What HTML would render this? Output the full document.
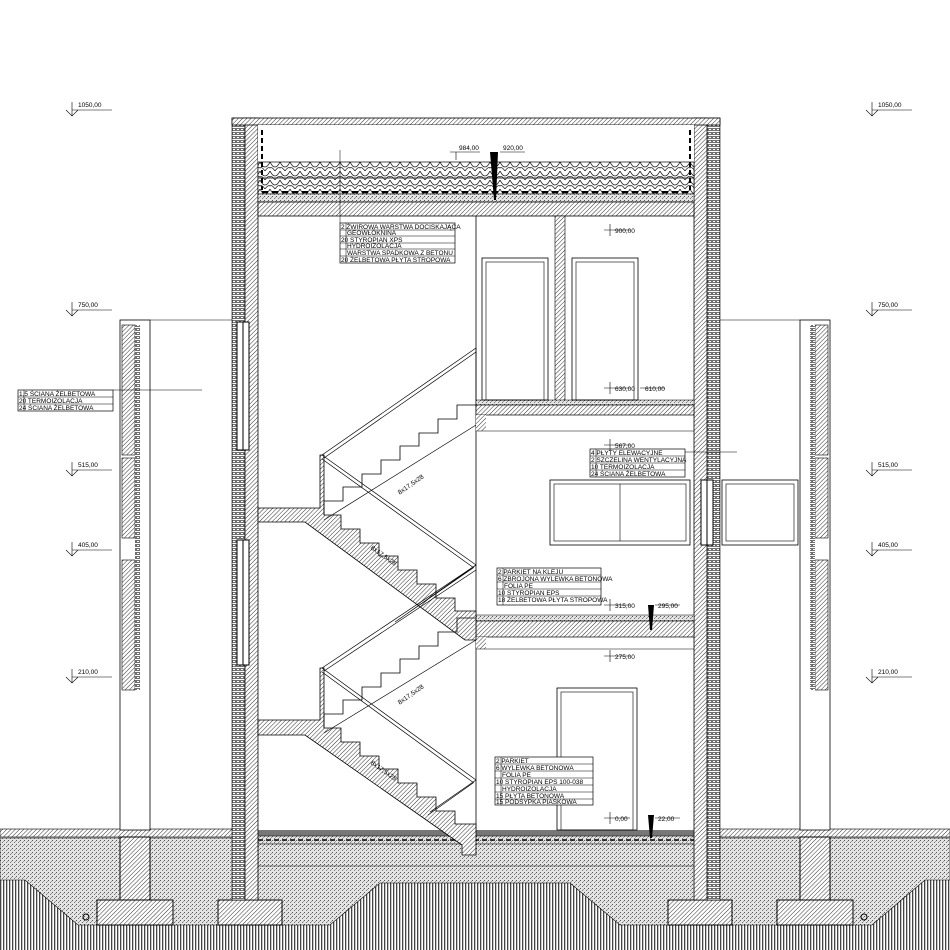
<!DOCTYPE html>
<html><head><meta charset="utf-8"><style>
html,body{margin:0;padding:0;background:#fff}
svg{display:block}
text{font-family:"Liberation Sans",sans-serif;font-size:6.5px;fill:#000}
</style></head><body>
<svg width="950" height="950" viewBox="0 0 950 950" xmlns="http://www.w3.org/2000/svg">
<defs>
<pattern id="h" width="3" height="3" patternUnits="userSpaceOnUse" patternTransform="rotate(45)"><rect width="3" height="3" fill="#fff"/><line x1="0" y1="0" x2="0" y2="3" stroke="#333" stroke-width="1"/></pattern>
<pattern id="st" width="4" height="4" patternUnits="userSpaceOnUse"><rect width="4" height="4" fill="#e4e4e4"/><rect x="0" y="0" width="1" height="1" fill="#555"/><rect x="2" y="2" width="1" height="1" fill="#777"/><rect x="3" y="1" width="1" height="1" fill="#999"/></pattern>
<pattern id="gr" width="3" height="4" patternUnits="userSpaceOnUse"><rect width="3" height="4" fill="#fff"/><rect width="1.3" height="4" fill="#444"/></pattern>
<pattern id="gv" width="10" height="9" patternUnits="userSpaceOnUse"><rect width="10" height="9" fill="#fff"/><path d="M0 0 Q5 10 10 0 M5 9 Q0 2 -1 9 M5 9 Q10 2 11 9" fill="none" stroke="#222" stroke-width="0.8"/></pattern>
<pattern id="ins" width="4" height="4" patternUnits="userSpaceOnUse"><rect width="4" height="4" fill="#fff"/><rect x="0.5" y="0.5" width="3" height="2" fill="none" stroke="#333" stroke-width="0.7"/></pattern>
</defs>

<!-- ground -->
<path d="M0 880 L25 880 L78 925 L330 925 L380 883 L570 883 L620 925 L872 925 L925 880 L950 880 L950 950 L0 950Z" fill="url(#gr)"/>
<path d="M0 838 L950 838 L950 880 L925 880 L872 925 L620 925 L570 883 L380 883 L330 925 L78 925 L25 880 L0 880Z" fill="url(#st)" stroke="#000" stroke-width="0.6"/>
<rect x="0" y="829" width="240" height="8" fill="url(#h)" stroke="#000" stroke-width="0.6"/>
<rect x="712" y="829" width="238" height="8" fill="url(#h)" stroke="#000" stroke-width="0.6"/>
<!-- footings -->
<rect x="97" y="900" width="76" height="25" fill="url(#h)" stroke="#000"/>
<rect x="218" y="900" width="64" height="25" fill="url(#h)" stroke="#000"/>
<rect x="668" y="900" width="64" height="25" fill="url(#h)" stroke="#000"/>
<rect x="777" y="900" width="76" height="25" fill="url(#h)" stroke="#000"/>
<rect x="120" y="837" width="30" height="63" fill="url(#h)" stroke="#000"/>
<rect x="800" y="837" width="30" height="63" fill="url(#h)" stroke="#000"/>
<circle cx="86" cy="917" r="3" fill="none" stroke="#000"/>
<circle cx="864" cy="917" r="3" fill="none" stroke="#000"/>
<!-- ground floor slab -->
<rect x="258" y="830" width="436" height="6" fill="#777"/>
<rect x="258" y="836" width="436" height="8" fill="url(#st)" stroke="#000" stroke-width="0.5"/>
<line x1="258" y1="840" x2="694" y2="840" stroke="#000" stroke-width="1.5" stroke-dasharray="5 3"/>
<rect x="258" y="844" width="436" height="22" fill="url(#st)" stroke="#000" stroke-width="0.5"/>

<!-- outside columns -->
<rect x="120" y="320" width="30" height="510" fill="#fff" stroke="#000" stroke-width="0.8"/>
<rect x="122" y="325" width="13" height="130" fill="url(#h)" stroke="#000" stroke-width="0.6"/>
<rect x="122" y="458" width="13" height="80" fill="url(#h)" stroke="#000" stroke-width="0.6"/>
<rect x="122" y="560" width="13" height="130" fill="url(#h)" stroke="#000" stroke-width="0.6"/>
<rect x="135" y="325" width="5" height="365" fill="url(#ins)"/>
<rect x="800" y="320" width="30" height="510" fill="#fff" stroke="#000" stroke-width="0.8"/>
<rect x="815" y="325" width="13" height="130" fill="url(#h)" stroke="#000" stroke-width="0.6"/>
<rect x="815" y="458" width="13" height="80" fill="url(#h)" stroke="#000" stroke-width="0.6"/>
<rect x="815" y="560" width="13" height="130" fill="url(#h)" stroke="#000" stroke-width="0.6"/>
<rect x="810" y="325" width="5" height="365" fill="url(#ins)"/>
<line x1="150" y1="320" x2="232" y2="320" stroke="#000" stroke-width="0.6"/>
<line x1="720" y1="320" x2="800" y2="320" stroke="#000" stroke-width="0.6"/>

<!-- main walls -->
<rect x="232" y="118" width="13" height="782" fill="url(#ins)" stroke="#000" stroke-width="0.6"/>
<rect x="245" y="118" width="13" height="782" fill="url(#h)" stroke="#000" stroke-width="0.8"/>
<rect x="707" y="118" width="13" height="782" fill="url(#ins)" stroke="#000" stroke-width="0.6"/>
<rect x="694" y="118" width="13" height="782" fill="url(#h)" stroke="#000" stroke-width="0.8"/>
<rect x="232" y="118" width="488" height="7" fill="url(#h)" stroke="#000" stroke-width="0.8"/>
<!-- left windows -->
<rect x="237" y="322" width="12" height="128" fill="#fff" stroke="#000"/>
<line x1="243" y1="322" x2="243" y2="450" stroke="#000"/>
<rect x="237" y="540" width="12" height="125" fill="#fff" stroke="#000"/>
<line x1="243" y1="540" x2="243" y2="665" stroke="#000"/>
<rect x="701" y="480" width="12" height="65" fill="#fff" stroke="#000"/>
<line x1="707" y1="480" x2="707" y2="545" stroke="#000"/>

<!-- roof -->
<rect x="258" y="125" width="436" height="75" fill="#fff"/>
<rect x="258" y="162" width="436" height="32" fill="url(#gv)" stroke="#000" stroke-width="0.7"/>
<line x1="258" y1="178" x2="694" y2="178" stroke="#000" stroke-width="0.8"/>
<line x1="262" y1="192" x2="690" y2="192" stroke="#000" stroke-width="2" stroke-dasharray="6 4"/>
<rect x="258" y="194" width="436" height="8" fill="url(#st)" stroke="#000" stroke-width="0.5"/>
<rect x="258" y="202" width="436" height="14" fill="url(#h)" stroke="#000" stroke-width="0.8"/>
<line x1="262" y1="130" x2="262" y2="190" stroke="#000" stroke-width="2" stroke-dasharray="5 3"/>
<line x1="690" y1="130" x2="690" y2="190" stroke="#000" stroke-width="2" stroke-dasharray="5 3"/>
<polygon points="490,152 498,152 496,200 494,200" fill="#000"/>

<!-- interior wall and slabs -->
<rect x="555" y="216" width="10" height="185" fill="url(#h)" stroke="#000" stroke-width="0.6"/>
<line x1="476" y1="216" x2="476" y2="830" stroke="#000" stroke-width="0.8"/>
<rect x="476" y="400" width="218" height="5" fill="url(#st)" stroke="#000" stroke-width="0.5"/>
<rect x="476" y="405" width="218" height="10" fill="url(#h)" stroke="#000" stroke-width="0.7"/>
<rect x="476" y="615" width="218" height="6" fill="url(#st)" stroke="#000" stroke-width="0.5"/>
<rect x="476" y="621" width="218" height="16" fill="url(#h)" stroke="#000" stroke-width="0.7"/>
<rect x="476" y="415" width="10" height="16" fill="url(#h)"/>
<line x1="476" y1="431" x2="694" y2="431" stroke="#000" stroke-width="0.6"/>
<rect x="476" y="637" width="10" height="12" fill="url(#h)"/>
<line x1="476" y1="649" x2="694" y2="649" stroke="#000" stroke-width="0.6"/>
<polygon points="648,605 654,605 652,630 650,630" fill="#000"/>
<polygon points="648,815 654,815 652,838 650,838" fill="#000"/>

<!-- doors -->
<rect x="482" y="258" width="66" height="142" fill="none" stroke="#000" stroke-width="0.8"/>
<rect x="486" y="262" width="58" height="138" fill="none" stroke="#000" stroke-width="0.6"/>
<rect x="572" y="258" width="66" height="142" fill="none" stroke="#000" stroke-width="0.8"/>
<rect x="576" y="262" width="58" height="138" fill="none" stroke="#000" stroke-width="0.6"/>
<rect x="557" y="688" width="80" height="142" fill="none" stroke="#000" stroke-width="0.8"/>
<rect x="561" y="692" width="72" height="138" fill="none" stroke="#000" stroke-width="0.6"/>
<!-- windows right -->
<rect x="550" y="480" width="140" height="65" fill="none" stroke="#000" stroke-width="0.8"/>
<rect x="554" y="484" width="132" height="57" fill="none" stroke="#000" stroke-width="0.6"/>
<line x1="620" y1="484" x2="620" y2="541" stroke="#000" stroke-width="0.6"/>
<rect x="722" y="480" width="76" height="65" fill="none" stroke="#000" stroke-width="0.8"/>
<rect x="726" y="484" width="68" height="57" fill="none" stroke="#000" stroke-width="0.6"/>

<!-- landings left -->
<path d="M258 508 L320 508 L320 455 L324 455 L324 515 L341 515 L341 529 L360 529 L360 543 L379 543 L379 556 L398 556 L398 570 L417 570 L417 584 L436 584 L436 598 L455 598 L455 611 L476 611 L476 640 L465 640 L305 522 L258 522Z" fill="url(#h)" stroke="#000" stroke-width="0.8"/>
<path d="M258 720 L320 720 L320 668 L324 668 L324 728 L341 728 L341 742 L360 742 L360 756 L379 756 L379 769 L398 769 L398 783 L417 783 L417 797 L436 797 L436 811 L455 811 L455 824 L476 824 L476 855 L462 855 L462 845 L305 735 L258 735Z" fill="url(#h)" stroke="#000" stroke-width="0.8"/>
<!-- uncut flights -->
<polyline points="324,515 324,501 343,501 343,487 362,487 362,474 381,474 381,460 400,460 400,446 419,446 419,433 438,433 438,419 457,419 457,405 476,405" fill="none" stroke="#000" stroke-width="0.8"/>
<line x1="324" y1="520" x2="476" y2="425" stroke="#000" stroke-width="0.7"/>
<polyline points="324,728 324,714 343,714 343,700 362,700 362,687 381,687 381,673 400,673 400,659 419,659 419,646 438,646 438,632 457,632 457,618 476,618" fill="none" stroke="#000" stroke-width="0.8"/>
<line x1="324" y1="733" x2="476" y2="640" stroke="#000" stroke-width="0.7"/>
<!-- railings -->
<g stroke="#000" stroke-width="0.7" fill="none">
<path d="M322 455 L476 348 M324 458 L476 352"/>
<path d="M322 455 L476 565 M322 459 L474 568"/>
<path d="M476 565 L398 620 M473 568 L395 622"/>
<path d="M322 668 L476 565 M324 671 L476 570"/>
<path d="M322 668 L476 780 M322 672 L474 783"/>
<path d="M476 780 L430 812 M473 783 L428 815"/>
<line x1="476" y1="348" x2="476" y2="400"/>
</g>
<g font-size="5">
<text x="395" y="490" transform="rotate(-35 405 485)" font-size="5">8x17,5x28</text>
<text x="370" y="555" transform="rotate(35 380 552)" font-size="5">8x17,5x28</text>
<text x="395" y="700" transform="rotate(-35 405 695)" font-size="5">8x17,5x28</text>
<text x="370" y="770" transform="rotate(35 380 767)" font-size="5">8x17,5x28</text>
</g>

<!-- labels -->
<g fill="#fff" stroke="#000" stroke-width="0.7">
<rect x="340" y="223" width="115" height="40"/>
<rect x="18" y="390" width="95" height="21"/>
<rect x="590" y="449" width="95" height="28"/>
<rect x="497" y="568" width="104" height="37"/>
<rect x="495" y="757" width="98" height="48"/>
</g>
<g stroke="#000" stroke-width="0.5">
<line x1="340" y1="230" x2="455" y2="230"/><line x1="340" y1="236" x2="455" y2="236"/><line x1="340" y1="243" x2="455" y2="243"/><line x1="340" y1="249" x2="455" y2="249"/><line x1="340" y1="256" x2="455" y2="256"/><line x1="346" y1="223" x2="346" y2="263"/>
<line x1="340" y1="150" x2="340" y2="223"/>
<line x1="18" y1="397" x2="113" y2="397"/><line x1="18" y1="404" x2="113" y2="404"/><line x1="24" y1="390" x2="24" y2="411"/>
<line x1="113" y1="390" x2="202" y2="390"/>
<line x1="590" y1="456" x2="685" y2="456"/><line x1="590" y1="463" x2="685" y2="463"/><line x1="590" y1="470" x2="685" y2="470"/><line x1="596" y1="449" x2="596" y2="477"/>
<line x1="685" y1="452" x2="737" y2="452"/>
<line x1="497" y1="575" x2="601" y2="575"/><line x1="497" y1="582" x2="601" y2="582"/><line x1="497" y1="589" x2="601" y2="589"/><line x1="497" y1="596" x2="601" y2="596"/><line x1="503" y1="568" x2="503" y2="605"/>
<line x1="495" y1="764" x2="593" y2="764"/><line x1="495" y1="771" x2="593" y2="771"/><line x1="495" y1="778" x2="593" y2="778"/><line x1="495" y1="785" x2="593" y2="785"/><line x1="495" y1="792" x2="593" y2="792"/><line x1="495" y1="799" x2="593" y2="799"/><line x1="501" y1="757" x2="501" y2="805"/>
</g>
<g font-size="5.5">
<text x="341" y="229">2 ŻWIROWA WARSTWA DOCISKAJĄCA</text>
<text x="347" y="235">GEOWŁÓKNINA</text>
<text x="341" y="242">20 STYROPIAN XPS</text>
<text x="347" y="248">HYDROIZOLACJA</text>
<text x="347" y="255">WARSTWA SPADKOWA Z BETONU</text>
<text x="341" y="262">20 ŻELBETOWA PŁYTA STROPOWA</text>
<text x="19" y="396">1,5 ŚCIANA ŻELBETOWA</text>
<text x="19" y="403">20 TERMOIZOLACJA</text>
<text x="19" y="410">24 ŚCIANA ŻELBETOWA</text>
<text x="591" y="455">4 PŁYTY ELEWACYJNE</text>
<text x="591" y="462">2 SZCZELINA WENTYLACYJNA</text>
<text x="591" y="469">10 TERMOIZOLACJA</text>
<text x="591" y="476">24 ŚCIANA ŻELBETOWA</text>
<text x="498" y="574">2 PARKIET NA KLEJU</text>
<text x="498" y="581">6 ZBROJONA WYLEWKA BETONOWA</text>
<text x="504" y="588">FOLIA PE</text>
<text x="498" y="595">10 STYROPIAN EPS</text>
<text x="498" y="602">18 ŻELBETOWA PŁYTA STROPOWA</text>
<text x="496" y="763">2 PARKIET</text>
<text x="496" y="770">6 WYLEWKA BETONOWA</text>
<text x="502" y="777">FOLIA PE</text>
<text x="496" y="784">10 STYROPIAN EPS 100-038</text>
<text x="502" y="791">HYDROIZOLACJA</text>
<text x="496" y="798">15 PŁYTA BETONOWA</text>
<text x="496" y="804">15 PODSYPKA PIASKOWA</text>
</g>

<!-- level markers -->
<g stroke="#000" stroke-width="0.6" fill="none">
<path d="M66 110 L72 116 L78 110 M72 102 V116 M72 110 H112"/>
<path d="M66 310 L72 316 L78 310 M72 302 V316 M72 310 H112"/>
<path d="M66 470 L72 476 L78 470 M72 462 V476 M72 470 H112"/>
<path d="M66 550 L72 556 L78 550 M72 542 V556 M72 550 H112"/>
<path d="M66 677 L72 683 L78 677 M72 669 V683 M72 677 H112"/>
<path d="M866 110 L872 116 L878 110 M872 102 V116 M872 110 H912"/>
<path d="M866 310 L872 316 L878 310 M872 302 V316 M872 310 H912"/>
<path d="M866 470 L872 476 L878 470 M872 462 V476 M872 470 H912"/>
<path d="M866 550 L872 556 L878 550 M872 542 V556 M872 550 H912"/>
<path d="M866 677 L872 683 L878 677 M872 669 V683 M872 677 H912"/>
<path d="M450 152 H480 M456 152 V160 M500 152 H525"/>
<path d="M604 230 H630 M610 224 V236"/>
<path d="M604 388 H630 M610 382 V394 M640 388 H665"/>
<path d="M604 445 H630 M610 439 V451"/>
<path d="M604 605 H630 M610 599 V611 M655 605 H680"/>
<path d="M604 656 H630 M610 650 V662"/>
<path d="M604 818 H630 M610 812 V824 M655 818 H680"/>
</g>
<g font-size="6">
<text x="78" y="107">1050,00</text><text x="78" y="307">750,00</text><text x="78" y="467">515,00</text><text x="78" y="547">405,00</text><text x="78" y="674">210,00</text>
<text x="878" y="107">1050,00</text><text x="878" y="307">750,00</text><text x="878" y="467">515,00</text><text x="878" y="547">405,00</text><text x="878" y="674">210,00</text>
<text x="459" y="150">984,00</text><text x="503" y="150">920,00</text>
<text x="615" y="233">900,00</text>
<text x="615" y="391">630,00</text><text x="645" y="391">610,00</text>
<text x="615" y="448">567,00</text>
<text x="615" y="608">315,00</text><text x="658" y="608">295,00</text>
<text x="615" y="659">275,00</text>
<text x="615" y="821">0,00</text><text x="658" y="821">22,00</text>
</g>
</svg>
</body></html>
